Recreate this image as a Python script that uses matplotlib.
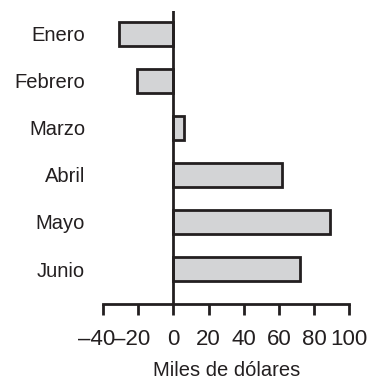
import matplotlib

matplotlib.use("Agg")

import matplotlib.pyplot as plt  # noqa: E402

months = ["Enero", "Febrero", "Marzo", "Abril", "Mayo", "Junio"]
values = [-31, -21, 6, 62, 89, 72]  # miles de dólares
x_ticks = [-40, -20, 0, 20, 40, 60, 80, 100]
x_tick_labels = ["–40", "–20", "0", "20", "40", "60", "80", "100"]

plt.rcParams["font.family"] = ["Liberation Sans", "DejaVu Sans"]
ink = "#231f20"
tick_fs = 16

fig = plt.figure(figsize=(3.83, 3.82), dpi=100)
ax = fig.add_axes([0.2697, 0.2034, 0.6415, 0.7678])

pos = list(range(len(months)))
ax.barh(pos, values, height=0.53, color="#d3d4d6", edgecolor=ink, linewidth=2.0, zorder=2)
ax.axvline(0, color=ink, linewidth=2.0, zorder=3)

ax.set_xlim(-40, 100)
ax.set_ylim(5.751, -0.489)

for side in ("left", "right", "top"):
    ax.spines[side].set_visible(False)
ax.spines["bottom"].set_color(ink)
ax.spines["bottom"].set_linewidth(2.0)

# digits are centred on the tick, the minus sign hangs to the left
ax.set_xticks(x_ticks)
ax.set_xticklabels([])
ax.tick_params(axis="x", direction="out", length=8, width=2.0, color=ink)
for t, lab in zip(x_ticks, x_tick_labels):
    if lab.startswith("–"):
        half = len(lab[1:]) * 0.556 * tick_fs / 2
        ax.annotate(lab, xy=(t, 0), xycoords=("data", "axes fraction"),
                    xytext=(half, -18), textcoords="offset points",
                    ha="right", va="top", fontsize=tick_fs, color=ink)
    else:
        ax.annotate(lab, xy=(t, 0), xycoords=("data", "axes fraction"),
                    xytext=(0, -18), textcoords="offset points",
                    ha="center", va="top", fontsize=tick_fs, color=ink)

ax.set_yticks(pos)
ax.set_yticklabels(months)
ax.tick_params(axis="y", length=0, labelsize=14.5, labelcolor=ink, pad=13)

ax.set_xlabel("Miles de dólares", fontsize=14.5, color=ink, labelpad=29)

fig.savefig("out.png", dpi=100)
